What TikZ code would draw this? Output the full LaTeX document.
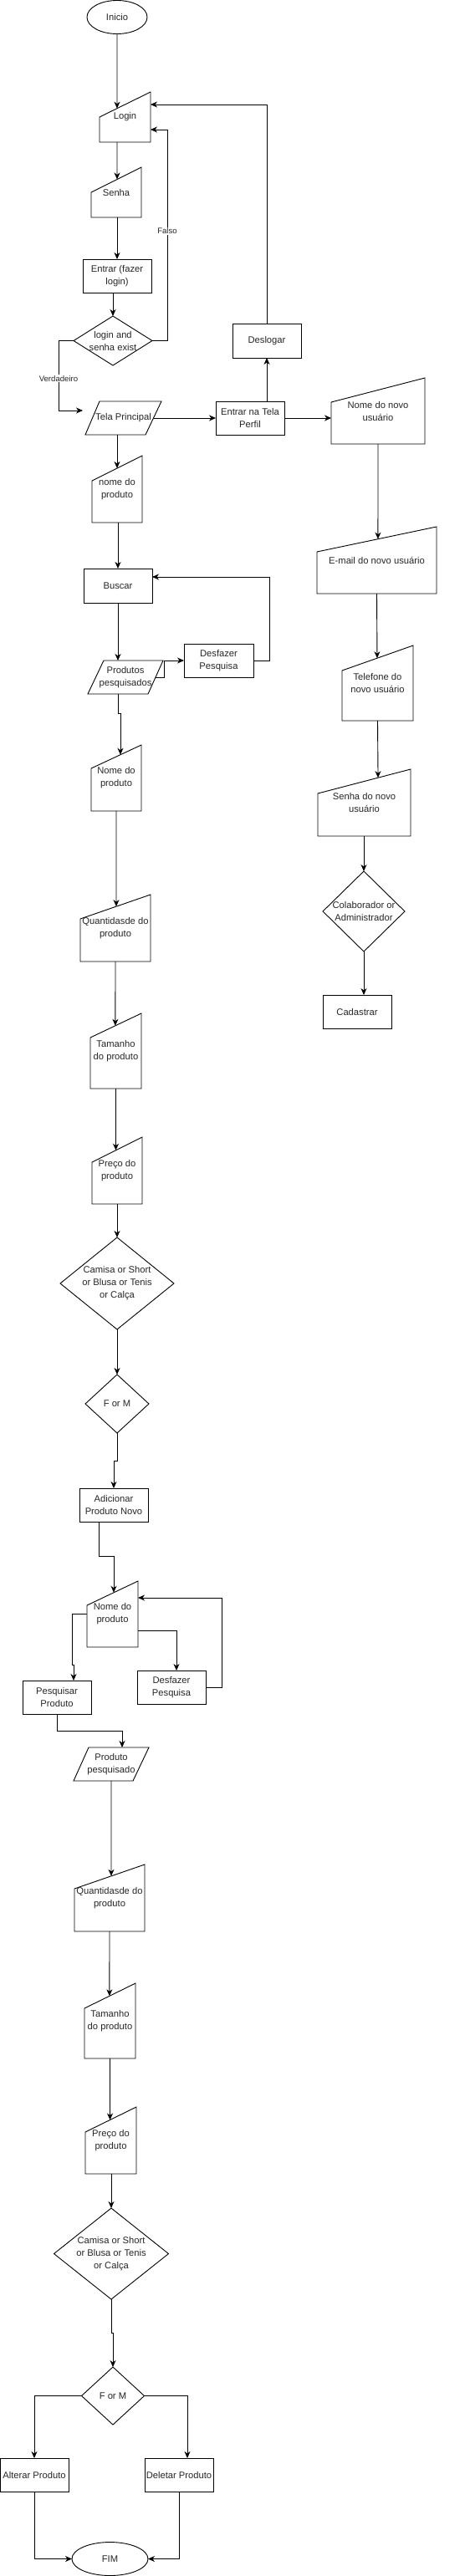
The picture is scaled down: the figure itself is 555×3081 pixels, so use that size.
\documentclass[tikz,border=0pt]{standalone}
\usepackage{fontspec}
\setmainfont{Liberation Sans}
\usetikzlibrary{arrows.meta,shapes.geometric,calc}
\tikzset{
  shp/.style={draw=black, line width=0.9pt, line join=miter},
  box/.style={draw=none, inner sep=0pt, outer sep=0pt, align=center, text=black!85, font=\fontsize{11.2}{15}\selectfont},
  rbox/.style={box, draw=black, line width=0.9pt, minimum width=82pt, minimum height=40pt},
  oval/.style={box, ellipse, draw=black, line width=0.9pt},
  arr/.style={draw=black, line width=0.9pt, -{Stealth[length=8pt,width=7pt,inset=2.5pt]}},
  lbl/.style={fill=white, inner sep=1pt, text=black!85, font=\fontsize{9.6}{12}\selectfont},
}
% manual input: name, xl, xr, y top-right, y top-left, y bottom, text
\newcommand{\mnin}[7]{%
  \coordinate (#1-tl) at (#2,#5);
  \coordinate (#1-tr) at (#3,#4);
  \draw[shp] (#2,#5) -- (#3,#4) -- (#3,#6) -- (#2,#6) -- cycle;
  \node[box, minimum width={#3-#2}, minimum height={#6-#4}] (#1) at ({(#2+#3)/2},{(#4+#6)/2}) {#7};
}
% parallelogram: name, x bottom-left, x top-left, x top-right, x bottom-right, y top, y bottom, text
\newcommand{\para}[8]{%
  \draw[shp] (#2,#7) -- (#3,#6) -- (#4,#6) -- (#5,#7) -- cycle;
  \node[box, minimum width={(#4-#3+#5-#2)/2}, minimum height={#7-#6}] (#1) at ({(#2+#4)/2},{(#6+#7)/2}) {#8};
}
% diamond: name, cx, cy, w, h, text
\newcommand{\dia}[6]{%
  \draw[shp] ({#2-#4/2},#3) -- (#2,{#3-#5/2}) -- ({#2+#4/2},#3) -- (#2,{#3+#5/2}) -- cycle;
  \node[box, minimum width={#4}, minimum height={#5}] (#1) at (#2,#3) {#6};
}
\begin{document}
\begin{tikzpicture}[x=1pt,y=-1pt]
\useasboundingbox (0,0) rectangle (555,3081);
% ---- nodes ----
\node[oval, minimum width=72pt, minimum height=40pt] (ini) at (140,20.5) {Inicio};
\mnin{login}{119}{180}{110}{140}{170}{Login}
\mnin{senha}{109}{169}{200}{230}{260}{Senha}
\node[rbox] (entrar) at (140,330) {Entrar (fazer\\login)};
\dia{d1}{135}{407.5}{94}{59}{login and\\senha exist}
\para{tela}{102}{119}{193}{174}{480}{520}{Tela Principal}
\node[rbox] (perfil) at (299,500) {Entrar na Tela\\Perfil};
\node[rbox, minimum height=41pt] (deslogar) at (319,407.5) {Deslogar};
\mnin{nnu}{396}{508}{452}{481}{531}{Nome do novo\\usuário}
\mnin{np1}{110}{170}{545}{575}{625}{nome do\\produto}
\node[rbox, minimum height=41pt] (buscar) at (141,700.5) {Buscar};
\mnin{email}{379}{522}{630}{660}{710}{E-mail do novo usuário}
\para{prodp}{105}{124}{195}{177}{790}{830}{Produtos\\pesquisados}
\node[rbox, minimum width=83pt] (desf1) at (261.5,790) {Desfazer\\Pesquisa};
\mnin{np2}{109}{169}{891}{919}{970}{Nome do\\produto}
\mnin{tel}{409}{494}{772}{802}{862}{Telefone do\\novo usuário}
\mnin{snu}{380}{491}{920}{949}{1000}{Senha do novo\\usuário}
\dia{colab}{435}{1090}{98}{96}{Colaborador or\\Administrador}
\node[rbox] (cad) at (427,1210) {Cadastrar};
\mnin{qt1}{96}{180}{1070}{1099}{1150}{Quantidasde do\\produto}
\mnin{tam1}{108}{169}{1212}{1241}{1302}{Tamanho\\do produto}
\mnin{pr1}{110}{170}{1360}{1390}{1440}{Preço do\\produto}
\dia{cam1}{140}{1535}{136}{110}{Camisa or Short\\or Blusa or Tenis\\or Calça}
\dia{fm1}{140}{1679}{76}{70}{F or M}
\node[rbox] (adic) at (136,1800) {Adicionar\\Produto Novo};
\mnin{np3}{104}{165}{1891}{1920}{1970}{Nome do\\produto}
\node[rbox] (pesq) at (68,2030) {Pesquisar\\Produto};
\node[rbox] (desf2) at (205,2018) {Desfazer\\Pesquisa};
\para{propq}{88}{106}{178}{159}{2090}{2130}{Produto\\pesquisado}
\mnin{qt2}{89}{173}{2230}{2259}{2310}{Quantidasde do\\produto}
\mnin{tam2}{101}{162}{2372}{2402}{2462}{Tamanho\\do produto}
\mnin{pr2}{102}{163}{2520}{2550}{2600}{Preço do\\produto}
\dia{cam2}{133}{2695.5}{137}{109}{Camisa or Short\\or Blusa or Tenis\\or Calça}
\dia{fm2}{135}{2865.5}{75}{69}{F or M}
\node[rbox] (alt) at (41,2960) {Alterar Produto};
\node[rbox] (del) at (214,2960) {Deletar Produto};
\node[oval, minimum width=91pt, minimum height=40pt] (fim) at (131.5,3060.5) {FIM};
% ---- connectors ----
\draw[arr] (ini.south) -- ($(login-tl)!0.344!(login-tr)$);
\draw[arr] (login.south -| ini.south) -- ($(senha-tl)!0.517!(senha-tr)$);
\draw[arr] (entrar.north |- senha.south) -- (entrar.north);
\draw[arr] (d1.north |- entrar.south) -- (d1.north);
\draw[arr] (d1.east) -- ++(18,0) |- node[lbl,pos=0.26]{Falso} ([yshift=-15pt]login.east);
\draw[arr] (d1.west) -- ++(-18,0) |- node[lbl,pos=0.27]{Verdadeiro} ([xshift=-12pt,yshift=9pt]tela.west);
\draw[arr] (tela.east) -- (perfil.west);
\draw[arr] (deslogar.south |- perfil.north) -- (deslogar.south);
\draw[arr] (deslogar.north) |- ([yshift=15pt]login.east);
\draw[arr] (perfil.east) -- (perfil.east -| nnu.west);
\draw[arr] (nnu.south) -- ($(email-tl)!0.51!(email-tr)$);
\draw[arr] (email.south) -- ($(tel-tl)!0.494!(tel-tr)$);
\draw[arr] (tel.south) -- ($(snu-tl)!0.649!(snu-tr)$);
\draw[arr] (colab.north |- snu.south) -- (colab.north);
\draw[arr] (colab.south) -- (colab.south |- cad.north);
\draw[arr] (tela.south -| np1.north) -- ($(np1-tl)!0.5!(np1-tr)$);
\draw[arr] (buscar.north |- np1.south) -- (buscar.north);
\draw[arr] (buscar.south) -- (buscar.south |- prodp.north);
\draw[arr] (prodp.east) -- ++(11,0) |- (desf1.west);
\draw[arr] (desf1.east) -- ++(19,0) |- ([yshift=10.5pt]buscar.east);
\draw[arr] (buscar.south |- prodp.south) -- ++(0,23) -| ($(np2-tl)!0.583!(np2-tr)$);
\draw[arr] (np2.south) -- ($(qt1-tl)!0.512!(qt1-tr)$);
\draw[arr] (qt1.south) -- ($(tam1-tl)!0.49!(tam1-tr)$);
\draw[arr] (tam1.south) -- ($(pr1-tl)!0.475!(pr1-tr)$);
\draw[arr] (pr1.south) -- (cam1.north);
\draw[arr] (cam1.south) -- (fm1.north);
\draw[arr] (fm1.south) -- ++(0,33) -| (adic.north);
\draw[arr] ([xshift=-18pt]adic.south) -- ++(0,41) -| ($(np3-tl)!0.525!(np3-tr)$);
\draw[arr] (np3.west) -- ++(-18,0) -- ++(0,61) -| ([xshift=20pt]pesq.north);
\draw[arr] ([yshift=-19.5pt]np3.east) -| ([xshift=6pt]desf2.north);
\draw[arr] (desf2.east) -- ++(19,0) |- ([yshift=19.5pt]np3.east);
\draw[arr] (pesq.south) -- ++(0,20) -| ([xshift=13pt]propq.north);
\draw[arr] (propq.south) -- ($(qt2-tl)!0.524!(qt2-tr)$);
\draw[arr] (qt2.south) -- ($(tam2-tl)!0.49!(tam2-tr)$);
\draw[arr] (tam2.south) -- ($(pr2-tl)!0.484!(pr2-tr)$);
\draw[arr] (cam2.north |- pr2.south) -- (cam2.north);
\draw[arr] (cam2.south) -- ++(0,40) -| (fm2.north);
\draw[arr] (fm2.west) -| (alt.north);
\draw[arr] (fm2.east) -| ([xshift=10pt]del.north);
\draw[arr] (alt.south) |- (fim.west);
\draw[arr] (del.south) |- (fim.east);
\end{tikzpicture}
\end{document}
